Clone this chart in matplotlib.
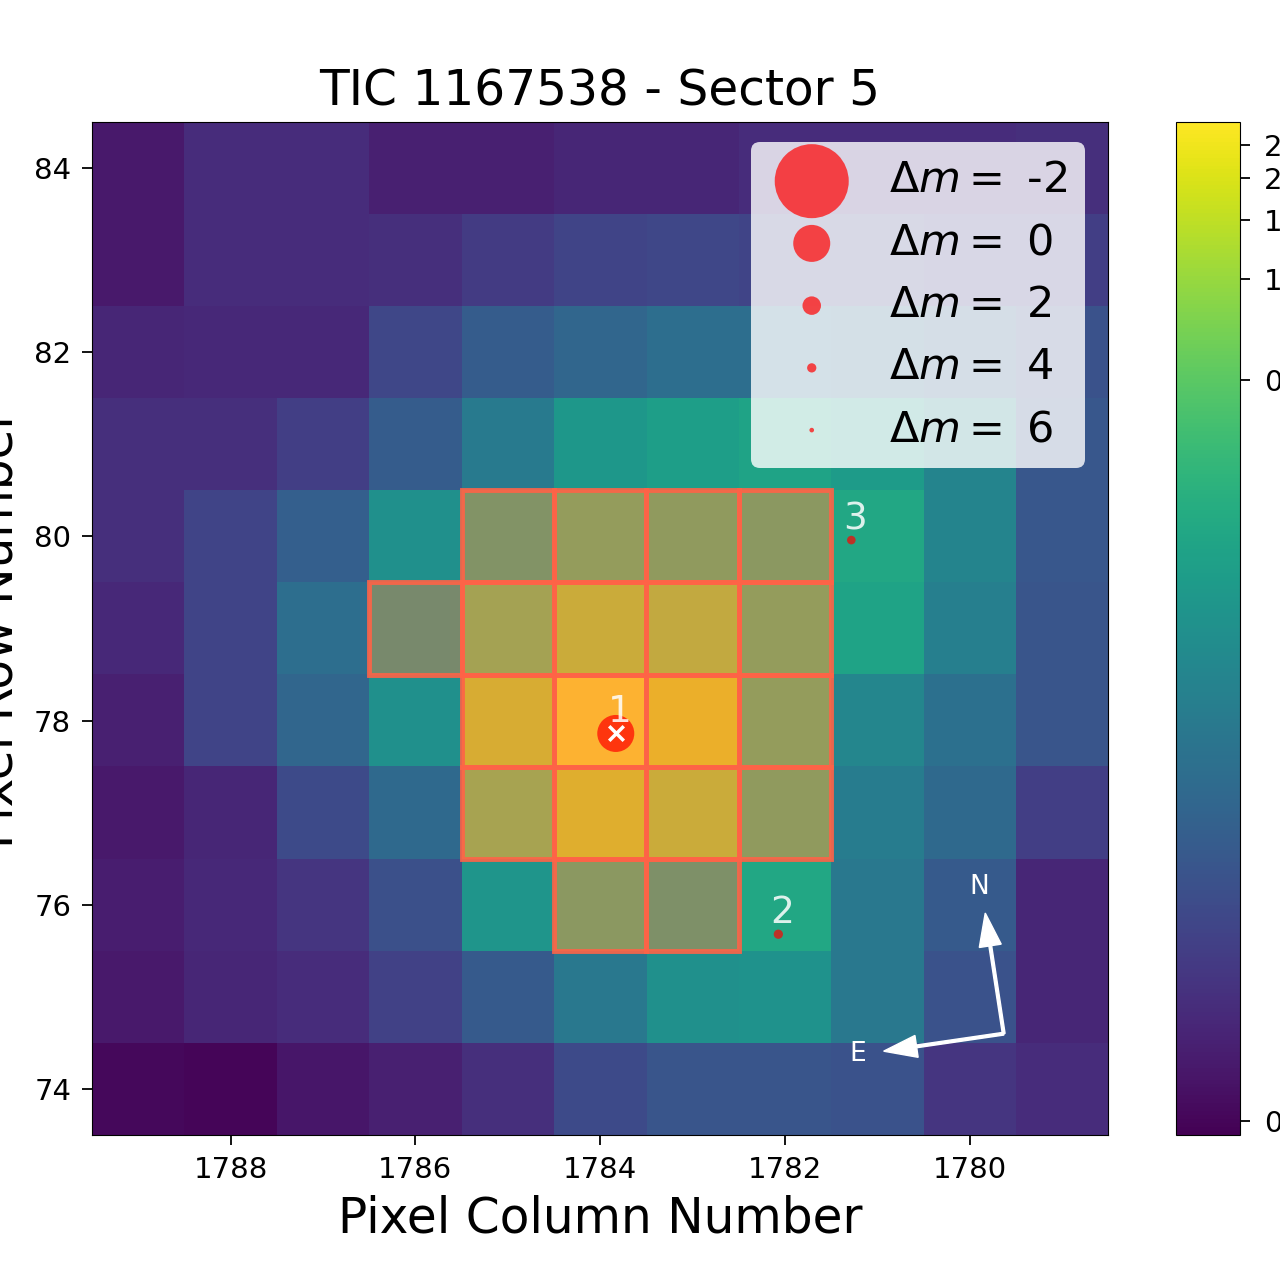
import numpy as np
import matplotlib
matplotlib.use('Agg')
import matplotlib.pyplot as plt
import matplotlib.colors as colors
import matplotlib.patches as patches

# pixel grid of the TPF frame (flux, top row = 84, left column = 1789)
columns = [1789, 1788, 1787, 1786, 1785, 1784, 1783, 1782, 1781, 1780, 1779]
rows = [84, 83, 82, 81, 80, 79, 78, 77, 76, 75, 74]
flux = np.array([
    [0.0015, 0.0038, 0.0038, 0.0022, 0.0022, 0.0029, 0.0029, 0.0038, 0.0038, 0.0038, 0.0043],
    [0.0015, 0.0038, 0.0038, 0.0043, 0.0066, 0.0087, 0.0096, 0.0087, 0.0087, 0.0072, 0.0072],
    [0.0029, 0.0033, 0.0033, 0.0096, 0.0188, 0.0257, 0.0323, 0.0323, 0.0278, 0.0204, 0.0136],
    [0.0043, 0.0043, 0.0072, 0.0188, 0.0469, 0.1110, 0.1370, 0.1580, 0.1280, 0.0627, 0.0160],
    [0.0043, 0.0087, 0.0204, 0.0898, 0.2590, 0.4210, 0.3930, 0.3420, 0.1820, 0.0627, 0.0160],
    [0.0033, 0.0087, 0.0323, 0.1580, 0.5960, 1.1920, 1.0380, 0.4210, 0.1580, 0.0542, 0.0147],
    [0.0022, 0.0087, 0.0257, 0.0898, 1.4670, 2.9300, 2.0730, 0.4210, 0.0674, 0.0348, 0.0147],
    [0.0015, 0.0029, 0.0105, 0.0278, 0.6390, 1.6850, 1.1920, 0.3930, 0.0504, 0.0278, 0.0072],
    [0.0018, 0.0033, 0.0053, 0.0125, 0.1035, 0.3420, 0.2250, 0.1820, 0.0435, 0.0174, 0.0029],
    [0.0015, 0.0029, 0.0038, 0.0080, 0.0174, 0.0435, 0.0898, 0.0964, 0.0435, 0.0136, 0.0029],
    [0.0002, 0.0000, 0.0012, 0.0022, 0.0043, 0.0105, 0.0147, 0.0147, 0.0136, 0.0053, 0.0038],
])
aperture = np.array([
    [0, 0, 0, 0, 0, 0, 0, 0, 0, 0, 0],
    [0, 0, 0, 0, 0, 0, 0, 0, 0, 0, 0],
    [0, 0, 0, 0, 0, 0, 0, 0, 0, 0, 0],
    [0, 0, 0, 0, 0, 0, 0, 0, 0, 0, 0],
    [0, 0, 0, 0, 1, 1, 1, 1, 0, 0, 0],
    [0, 0, 0, 1, 1, 1, 1, 1, 0, 0, 0],
    [0, 0, 0, 0, 1, 1, 1, 1, 0, 0, 0],
    [0, 0, 0, 0, 1, 1, 1, 1, 0, 0, 0],
    [0, 0, 0, 0, 0, 1, 1, 0, 0, 0, 0],
    [0, 0, 0, 0, 0, 0, 0, 0, 0, 0, 0],
    [0, 0, 0, 0, 0, 0, 0, 0, 0, 0, 0],
])

# gaia sources
star_id = ['1', '2', '3']
star_col = [1783.83, 1782.07, 1781.28]
star_row = [77.86, 75.68, 79.96]
star_dmag = [0.0, 4.0, 4.2]

legend_dmag = [-2, 0, 2, 4, 6]
cbar_ticks = [0, 0.5, 1.0, 1.5, 2.0, 2.5]
cbar_labels = ['0', '0.5', '1.0', '1.5', '2.0', '2.5']

vmin, vmax = -0.0003, 2.93

def stretch(x):
    x = np.clip((np.asarray(x, dtype=float) - vmin) / (vmax - vmin), 0, None)
    return np.log10(1000 * x + 1) / np.log10(1001)

def unstretch(y):
    return (10 ** (np.asarray(y, dtype=float) * np.log10(1001)) - 1) / 1000 * (vmax - vmin) + vmin

def msize(dm):
    return 710 * 2.0 ** (-np.asarray(dm, dtype=float))

fig = plt.figure(figsize=(12.8, 12.8), dpi=100)
ax = fig.add_axes([0.0719, 0.1133, 0.7938, 0.7914])
cax = fig.add_axes([0.9188, 0.1133, 0.05, 0.7914])

norm = colors.FuncNorm((stretch, unstretch), vmin=vmin, vmax=vmax)
im = ax.imshow(flux, cmap='viridis', norm=norm, origin='upper', aspect='auto',
               interpolation='nearest',
               extent=[columns[0] + 0.5, columns[-1] - 0.5, rows[-1] - 0.5, rows[0] + 0.5])

# aperture mask
for i in range(aperture.shape[0]):
    for j in range(aperture.shape[1]):
        if aperture[i, j]:
            ax.add_patch(patches.Rectangle((columns[j] - 0.5, rows[i] - 0.5), 1, 1,
                                           facecolor='tomato', edgecolor='none', alpha=0.4, zorder=2))
            ax.add_patch(patches.Rectangle((columns[j] - 0.5, rows[i] - 0.5), 1, 1,
                                           fill=False, edgecolor='tomato', lw=3.5, alpha=0.9, zorder=3))

ax.scatter(star_col, star_row, s=msize(star_dmag), c='red', alpha=0.7, edgecolors='none', zorder=5)
ax.scatter(star_col[0], star_row[0], marker='x', s=110, c='white', linewidths=2.5, zorder=6)
for k in range(len(star_id)):
    ax.text(star_col[k] - 0.04, star_row[k] + 0.12, star_id[k], color='white', alpha=0.85,
            fontsize=27, ha='center', va='baseline', zorder=7)

for dm in legend_dmag:
    ax.scatter([], [], s=msize(dm), c='red', alpha=0.7, edgecolors='none',
               label=r'$\Delta m=$ ' + str(dm))
leg = ax.legend(loc='upper right', bbox_to_anchor=(0.977, 0.980), borderaxespad=0,
                fontsize=31, framealpha=0.8, labelspacing=0.47, scatterpoints=1)
leg.get_frame().set_edgecolor('none')

# compass
ox, oy = 1779.63, 74.60
ax.arrow(ox, oy, 0.20, 1.31, width=0.03, head_width=0.24, head_length=0.36,
         length_includes_head=True, color='white', zorder=8)
ax.arrow(ox, oy, 1.30, -0.19, width=0.03, head_width=0.24, head_length=0.36,
         length_includes_head=True, color='white', zorder=8)
ax.text(1779.89, 76.19, 'N', color='white', fontsize=19, ha='center', va='center')
ax.text(1781.21, 74.38, 'E', color='white', fontsize=19, ha='center', va='center')

ax.set_xlim(columns[0] + 0.5, columns[-1] - 0.5)
ax.set_ylim(rows[-1] - 0.5, rows[0] + 0.5)
ax.set_xticks([1788, 1786, 1784, 1782, 1780])
ax.set_yticks([74, 76, 78, 80, 82, 84])
ax.tick_params(labelsize=21, length=7, width=1.3, pad=8)
ax.set_title('TIC 1167538 - Sector 5', fontsize=35, pad=12)
ax.set_xlabel('Pixel Column Number', fontsize=35, labelpad=8)
ax.set_ylabel('Pixel Row Number', fontsize=35)
ax.yaxis.set_label_coords(-0.068, 0.5)

cb = fig.colorbar(im, cax=cax, ticks=cbar_ticks)
cb.ax.set_yticklabels(cbar_labels)
cb.ax.tick_params(labelsize=21, length=7, width=1.3, pad=10)

fig.savefig('out.png', dpi=100, facecolor='white')
